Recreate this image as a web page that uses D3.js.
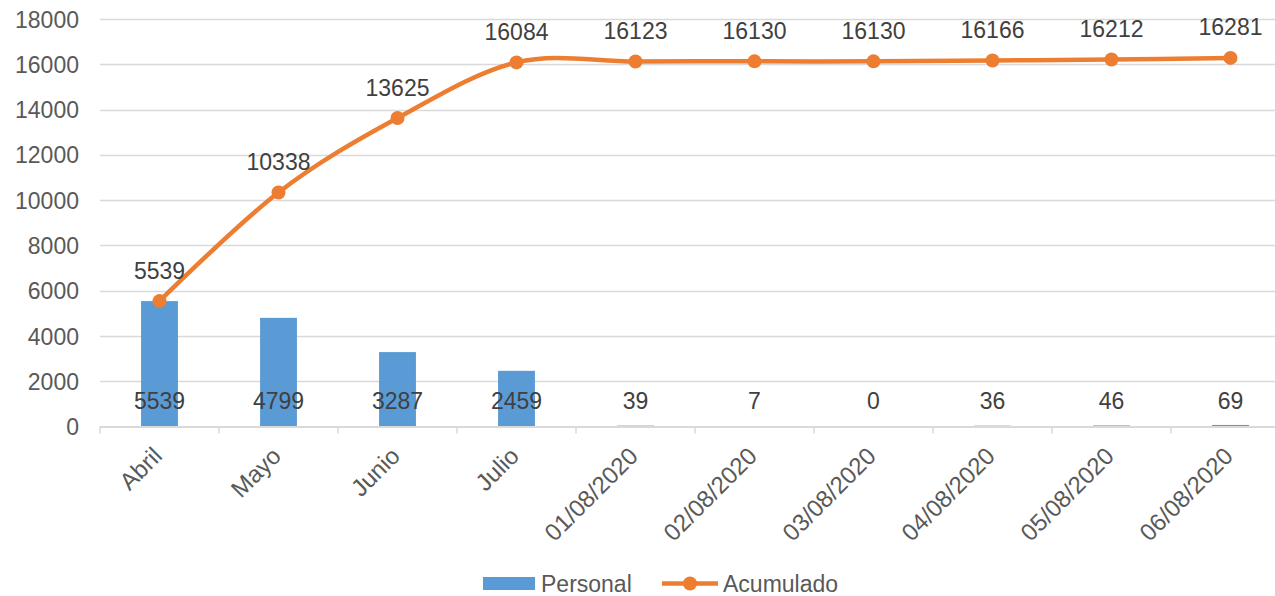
<!DOCTYPE html>
<html>
<head>
<meta charset="utf-8">
<script src="https://cdn.jsdelivr.net/npm/d3@7"></script>
<style>
  html, body { margin: 0; padding: 0; background: #fff; }
  svg { display: block; font-family: "Liberation Sans", Arial, sans-serif; }
</style>
</head>
<body>
<svg id="chart" width="1275" height="596"></svg>
<script>
// Categories and series
const categories = ["Abril", "Mayo", "Junio", "Julio", "01/08/2020", "02/08/2020",
                    "03/08/2020", "04/08/2020", "05/08/2020", "06/08/2020"];
const personal = [5539, 4799, 3287, 2459, 39, 7, 0, 36, 46, 69];
const acumulado = [5539, 10338, 13625, 16084, 16123, 16130, 16130, 16166, 16212, 16281];
const yTicks = [0, 2000, 4000, 6000, 8000, 10000, 12000, 14000, 16000, 18000];
const seriesNames = ["Personal", "Acumulado"];

const W = 1275, H = 596;
const BLUE = "#5B9BD5", ORANGE = "#ED7D31", TEXT = "#595959", GRID = "#D9D9D9";
const FS = 23;

const svg = d3.select("#chart");

const x = d3.scaleBand().domain(categories).range([100, 1290]).paddingInner(0).paddingOuter(0);
const y = d3.scaleLinear().domain([0, 18000]).range([426.5, 19]);

// Horizontal gridlines
svg.append("g").selectAll("line").data(yTicks.slice(1)).join("line")
  .attr("x1", 100).attr("x2", W)
  .attr("y1", d => Math.round(y(d)) + 0.5).attr("y2", d => Math.round(y(d)) + 0.5)
  .attr("stroke", GRID).attr("stroke-width", 1.5);

// Y axis labels
const yAxis = d3.axisLeft(y).tickValues(yTicks).tickFormat(d3.format("d")).tickSize(0).tickPadding(0);
const gy = svg.append("g").attr("transform", "translate(79,0)").call(yAxis);
gy.select(".domain").remove();
gy.selectAll("text")
  .attr("font-size", FS).attr("fill", TEXT)
  .attr("font-family", "Liberation Sans, Arial, sans-serif")
  .attr("text-anchor", "end").attr("dy", "0.35em");

// Bars
const barW = x.bandwidth() * 0.31;
svg.append("g").selectAll("rect").data(personal).join("rect")
  .attr("x", (d, i) => x(categories[i]) + x.bandwidth() / 2 - barW / 2)
  .attr("width", barW)
  .attr("y", d => y(d))
  .attr("height", d => y(0) - y(d))
  .attr("fill", BLUE);

// X axis
const xAxis = d3.axisBottom(x).tickSize(0).tickFormat("");
const gx = svg.append("g").attr("transform", `translate(0,${y(0)})`).call(xAxis);
gx.select(".domain").remove();
svg.append("line").attr("x1", 100).attr("x2", W).attr("y1", y(0) + 0.5).attr("y2", y(0) + 0.5)
  .attr("stroke", GRID).attr("stroke-width", 2);
// Tick marks at category boundaries
svg.append("g").selectAll("line").data(categories).join("line")
  .attr("x1", d => x(d)).attr("x2", d => x(d))
  .attr("y1", y(0)).attr("y2", y(0) + 7)
  .attr("stroke", GRID).attr("stroke-width", 1.5);

// Rotated category labels
svg.append("g").selectAll("text").data(categories).join("text")
  .attr("transform", d => `translate(${x(d) + x.bandwidth() / 2 + 4},${y(0) + 31}) rotate(-45)`)
  .attr("text-anchor", "end")
  .attr("font-size", 24).attr("fill", TEXT)
  .text(d => d);

// Bar value labels (inside base)
svg.append("g").selectAll("text").data(personal).join("text")
  .attr("x", (d, i) => x(categories[i]) + x.bandwidth() / 2)
  .attr("y", y(0) - 17.5)
  .attr("text-anchor", "middle")
  .attr("font-size", FS).attr("fill", "#404040")
  .text(d => d);

// Smoothed cumulative line
const line = d3.line()
  .x((d, i) => x(categories[i]) + x.bandwidth() / 2)
  .y(d => y(d))
  .curve(d3.curveCardinal.tension(0));
svg.append("path").datum(acumulado)
  .attr("d", line)
  .attr("fill", "none").attr("stroke", ORANGE).attr("stroke-width", 4.5)
  .attr("stroke-linejoin", "round").attr("stroke-linecap", "round");

svg.append("g").selectAll("circle").data(acumulado).join("circle")
  .attr("cx", (d, i) => x(categories[i]) + x.bandwidth() / 2)
  .attr("cy", d => y(d))
  .attr("r", 7)
  .attr("fill", ORANGE);

// Line value labels
svg.append("g").selectAll("text").data(acumulado).join("text")
  .attr("x", (d, i) => x(categories[i]) + x.bandwidth() / 2)
  .attr("y", d => y(d) - 22.5)
  .attr("text-anchor", "middle")
  .attr("font-size", FS).attr("fill", "#404040")
  .text(d => d);

// Legend
const lg = svg.append("g");
lg.append("rect").attr("x", 483).attr("y", 577).attr("width", 52).attr("height", 13).attr("fill", BLUE);
lg.append("text").attr("x", 541).attr("y", 591.5).attr("font-size", FS).attr("fill", TEXT).text(seriesNames[0]);
lg.append("line").attr("x1", 662).attr("x2", 718).attr("y1", 583.5).attr("y2", 583.5)
  .attr("stroke", ORANGE).attr("stroke-width", 4.5);
lg.append("circle").attr("cx", 690).attr("cy", 583.5).attr("r", 7).attr("fill", ORANGE);
lg.append("text").attr("x", 723).attr("y", 591.5).attr("font-size", FS).attr("fill", TEXT).text(seriesNames[1]);
</script>
</body>
</html>
